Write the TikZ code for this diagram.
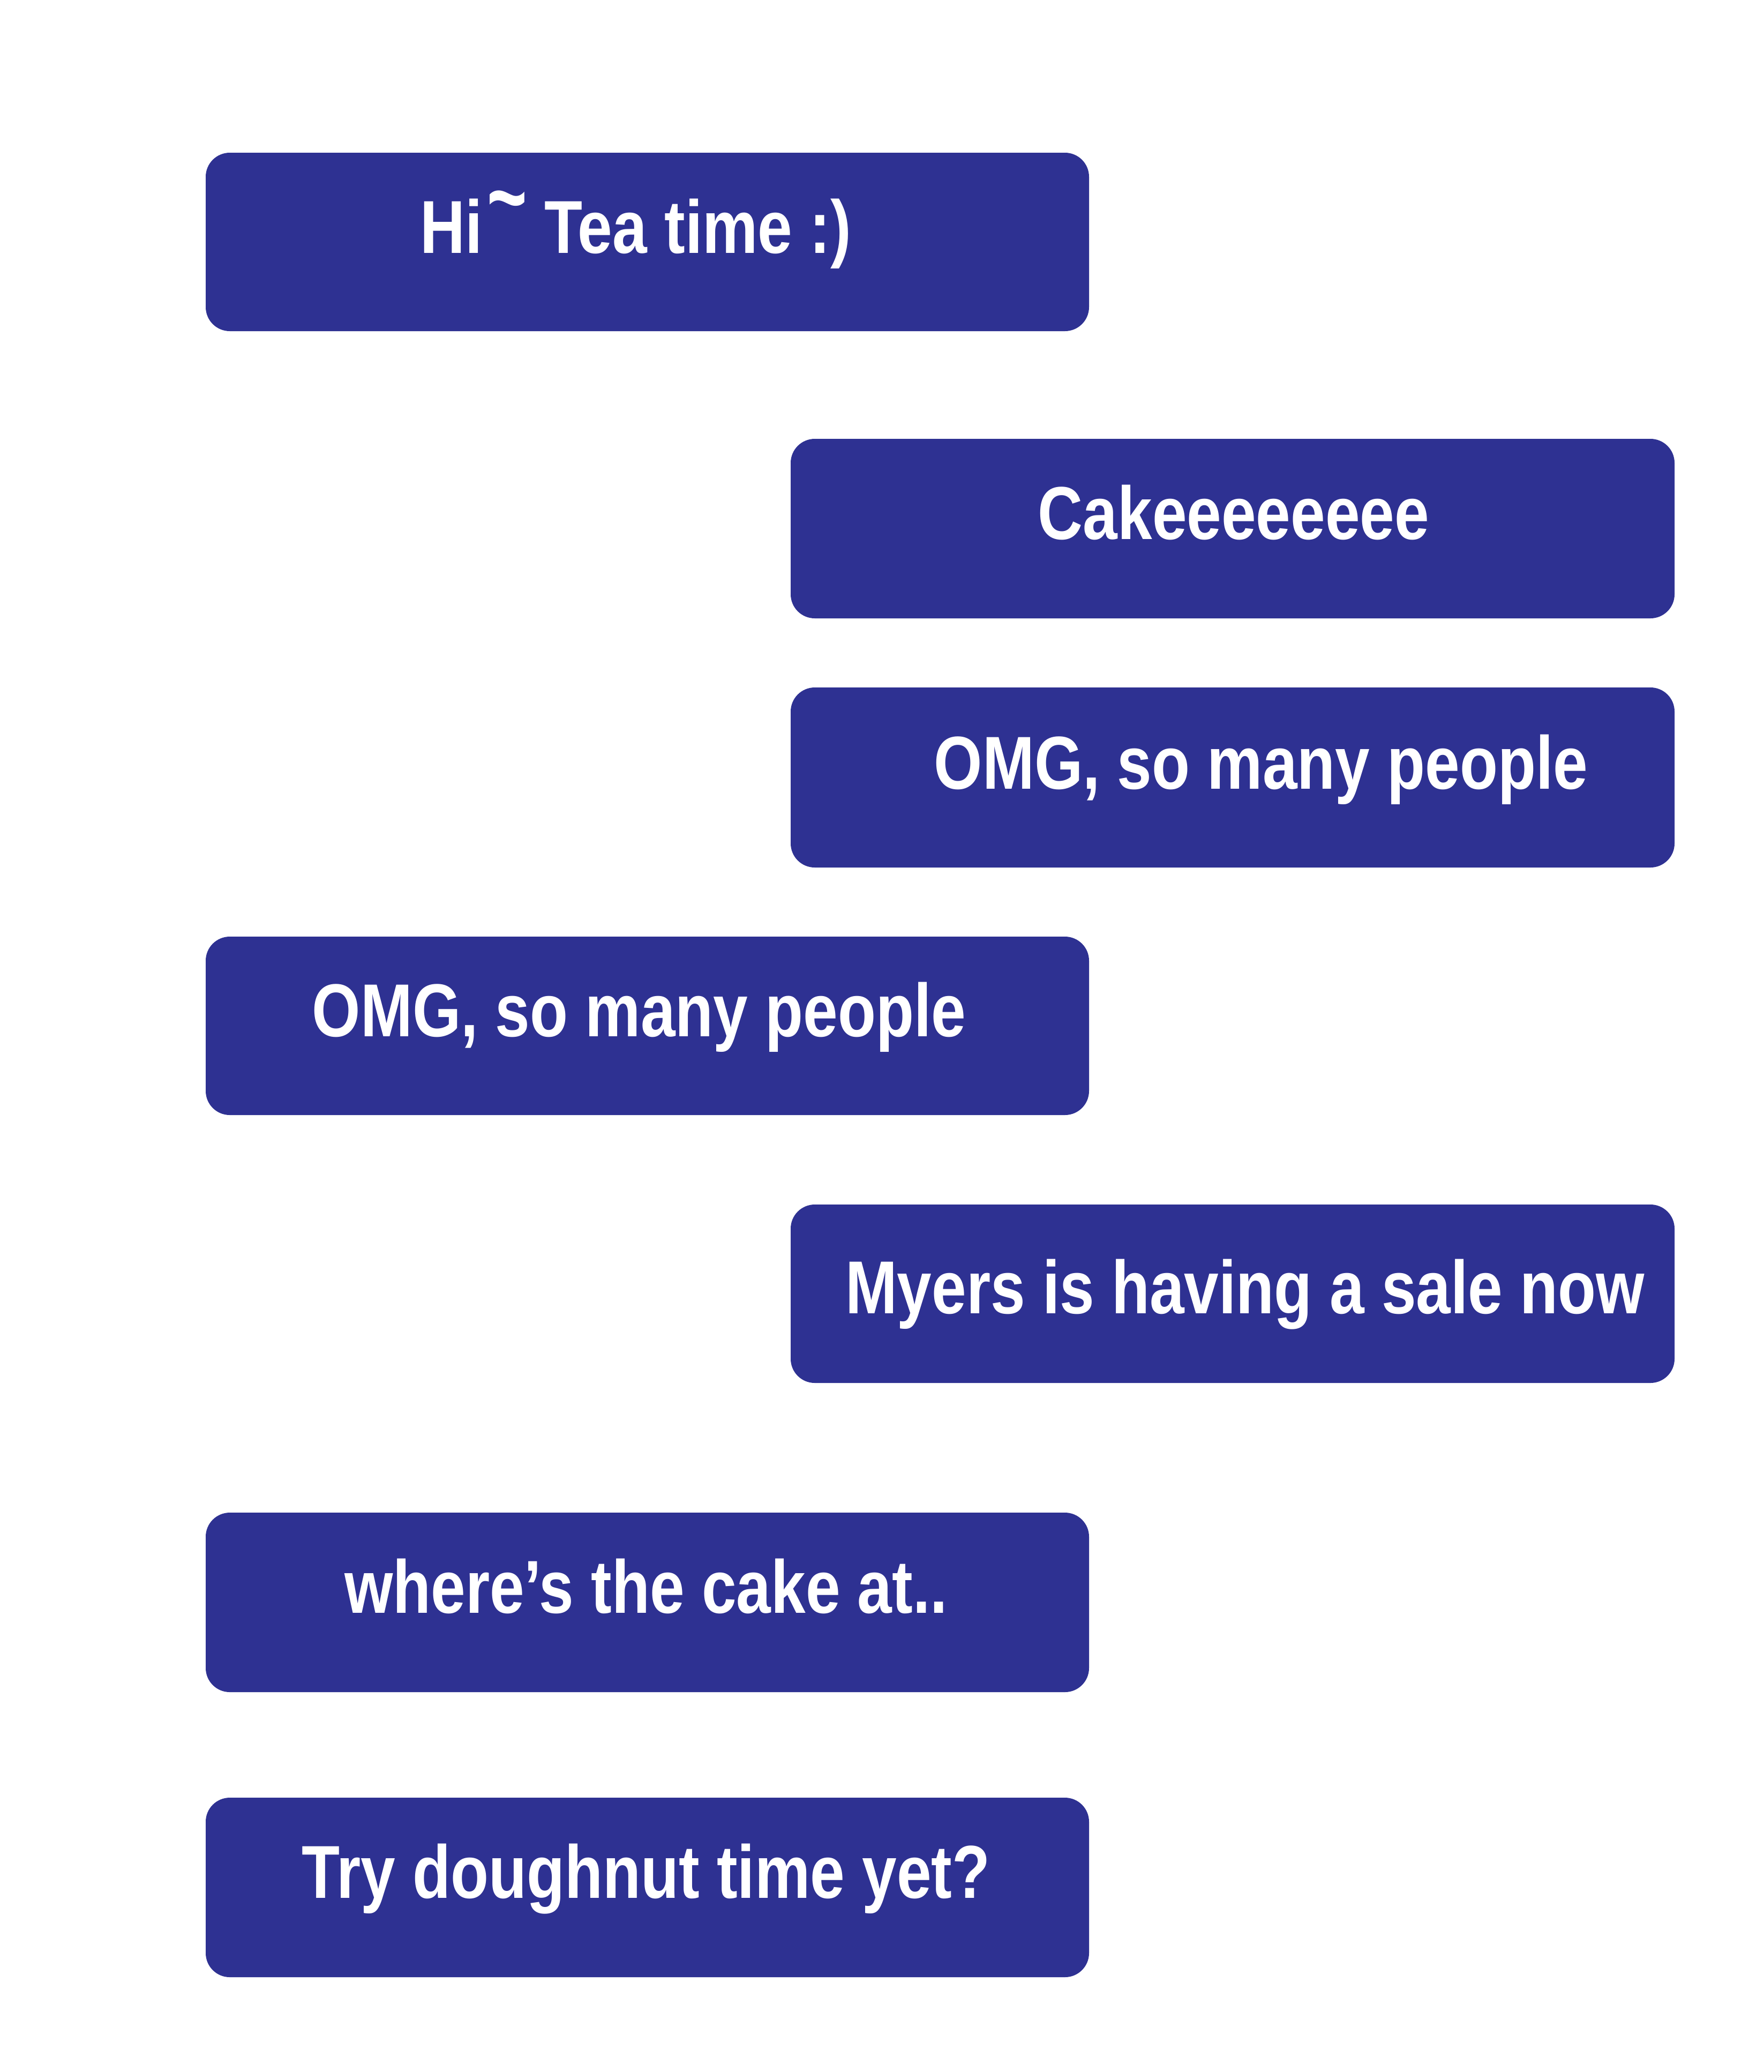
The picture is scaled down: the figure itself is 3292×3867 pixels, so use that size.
\documentclass[tikz,border=0pt]{standalone}
\usepackage{fontspec}
\setmainfont{Liberation Sans}[FakeStretch=0.83]
\definecolor{bubble}{RGB}{46,49,146}
\tikzset{
  bubblebox/.style={fill=bubble, draw=none, rounded corners=11.25pt},
  msg/.style={text=white, font=\fontsize{35}{40}\selectfont\bfseries, inner sep=0pt, anchor=base}
}
\newcommand{\hitilde}{\hspace{0.06em}\raisebox{0.30em}{\scalebox{1.1}[1.3]{\textasciitilde}}}
\begin{document}
\begin{tikzpicture}[x=0.25pt, y=-0.25pt]
\useasboundingbox[fill=white] (0,0) rectangle (3292,3867);
% left column x 384--2033, right column x 1476--3126
\path[bubblebox] (384,285) rectangle (2033,618) coordinate (b1);
\node[msg] (t1) at (1187,472) {Hi\hitilde{} Tea time :)};
\path[bubblebox] (1476,819) rectangle (3126,1154) coordinate (b2);
\node[msg] (t2) at (2303,1006) {Cakeeeeeeee};
\path[bubblebox] (1476,1283) rectangle (3126,1619) coordinate (b3);
\node[msg] (t3) at (2354,1472) {OMG, so many people};
\path[bubblebox] (384,1748) rectangle (2033,2081) coordinate (b4);
\node[msg] (t4) at (1193,1934) {OMG, so many people};
\path[bubblebox] (1476,2248) rectangle (3126,2581) coordinate (b5);
\node[msg] (t5) at (2324,2451) {Myers is having a sale now};
\path[bubblebox] (384,2823) rectangle (2033,3158) coordinate (b6);
\node[msg] (t6) at (1206,3010) {where’s the cake at..};
\path[bubblebox] (384,3355) rectangle (2033,3690) coordinate (b7);
\node[msg] (t7) at (1206,3542) {Try doughnut time yet?};
\end{tikzpicture}
\end{document}
